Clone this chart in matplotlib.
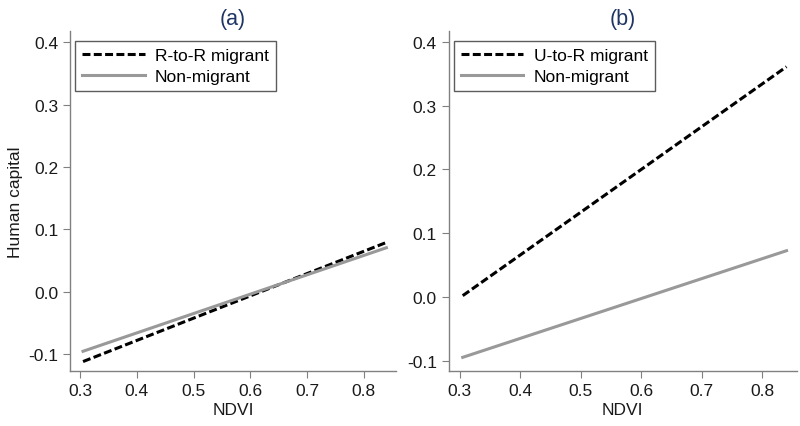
import matplotlib.pyplot as plt

plt.rcParams['font.family'] = ['Liberation Sans', 'DejaVu Sans']

# NDVI range of the fitted lines
ndvi = [0.305, 0.84]

# panel (a)
rr_migrant = [-0.112, 0.079]
non_migrant_a = [-0.0955, 0.0705]

# panel (b)
ur_migrant = [0.002, 0.361]
non_migrant_b = [-0.0947, 0.0725]

panels = [
    ("(a)", "R-to-R migrant", rr_migrant, non_migrant_a, (-0.127, 0.418)),
    ("(b)", "U-to-R migrant", ur_migrant, non_migrant_b, (-0.116, 0.417)),
]
positions = [[0.0875, 0.129, 0.4075, 0.796], [0.561, 0.129, 0.435, 0.796]]

fig = plt.figure(figsize=(8, 4.27), dpi=100)
axis_gray = "#808080"
text_col = "#1a1a1a"

for i, (title, label, mig, non, ylim) in enumerate(panels):
    ax = fig.add_axes(positions[i])
    ax.plot(ndvi, mig, color="black", lw=2.2, dashes=(2.6, 1.1), label=label)
    ax.plot(ndvi, non, color="#999999", lw=2.2, label="Non-migrant")
    ax.set_xlim(0.282, 0.857)
    ax.set_ylim(*ylim)
    ax.set_xticks([0.3, 0.4, 0.5, 0.6, 0.7, 0.8])
    ax.set_yticks([-0.1, 0.0, 0.1, 0.2, 0.3, 0.4])
    ax.set_yticklabels(["-0.1", "0.0", "0.1", "0.2", "0.3", "0.4"])
    for s in ["top", "right"]:
        ax.spines[s].set_visible(False)
    for s in ["left", "bottom"]:
        ax.spines[s].set_color(axis_gray)
        ax.spines[s].set_linewidth(1.0)
    ax.tick_params(colors=axis_gray, labelcolor=text_col, labelsize=12.5, length=5)
    ax.set_xlabel("NDVI", fontsize=12.5, color=text_col, labelpad=3)
    if i == 0:
        ax.set_ylabel("Human capital", fontsize=12.5, color=text_col, labelpad=4)
    ax.set_title(title, fontsize=15.5, color="#1f3563", pad=5)
    leg = ax.legend(loc="upper left", fontsize=12.5, handlelength=3.6, frameon=True,
                    fancybox=False, edgecolor="#333333", borderaxespad=0.3,
                    handletextpad=0.6, labelspacing=0.3,
                    bbox_to_anchor=(0.0, 0.985))
    leg.get_frame().set_linewidth(1.0)

fig.savefig("out.png", dpi=100)
